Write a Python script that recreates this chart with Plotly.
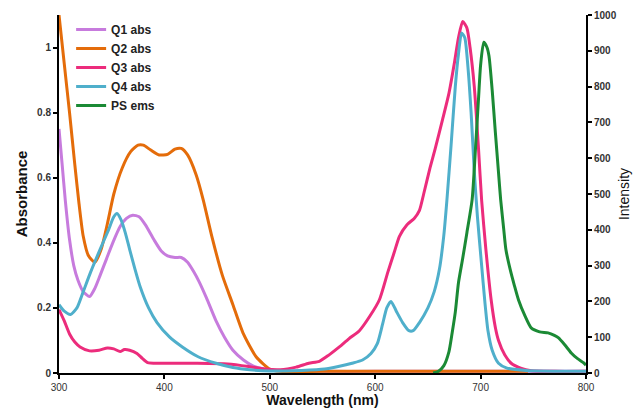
import plotly.graph_objects as go

# Absorbance spectra (left axis)
q1_wl = [300, 303, 306, 310, 314, 318, 323, 329, 334, 339, 345, 351, 358, 364, 370, 376, 382, 390,
         397, 403, 410, 416, 422, 428, 433, 440, 449, 457, 465, 475, 484, 495, 510, 550, 600, 650, 700, 750, 800]
q1_abs = [0.75, 0.64, 0.53, 0.41, 0.33, 0.285, 0.25, 0.235, 0.26, 0.30, 0.35, 0.40, 0.45, 0.475, 0.485, 0.48,
          0.455, 0.41, 0.375, 0.36, 0.355, 0.355, 0.34, 0.31, 0.28, 0.23, 0.16, 0.11, 0.07, 0.04, 0.022, 0.012,
          0.006, 0.005, 0.005, 0.005, 0.005, 0.005, 0.005]

q2_wl = [300, 305, 310, 315, 319, 323, 328, 334, 340, 346, 352, 360, 368, 375, 380, 387, 395, 403, 410,
         416, 422, 430, 437, 445, 455, 465, 475, 487, 500, 510, 550, 600, 650, 700, 745]
q2_abs = [1.10, 0.95, 0.80, 0.64, 0.52, 0.42, 0.36, 0.34, 0.38, 0.46, 0.55, 0.63, 0.68, 0.70, 0.70, 0.685,
          0.67, 0.672, 0.688, 0.69, 0.67, 0.61, 0.53, 0.42, 0.30, 0.21, 0.12, 0.05, 0.012, 0.005, 0.005,
          0.005, 0.005, 0.005, 0.005]

q3_wl = [300, 305, 310, 315, 320, 329, 338, 346, 352, 358, 362, 367, 374, 379, 384, 395, 410, 430, 460,
         480, 495, 510, 525, 537, 547, 556, 566, 575, 585, 595, 604, 612, 618, 623, 630, 637, 642, 646,
         652, 657, 664, 670, 675, 679, 683, 687, 690, 694, 698, 701, 705, 710, 714, 717, 723, 729, 738,
         748, 770, 800]
q3_abs = [0.195, 0.16, 0.12, 0.095, 0.08, 0.068, 0.07, 0.077, 0.074, 0.066, 0.072, 0.07, 0.06, 0.045,
          0.032, 0.03, 0.03, 0.03, 0.028, 0.02, 0.012, 0.01, 0.018, 0.03, 0.036, 0.055, 0.08, 0.105, 0.13,
          0.175, 0.225, 0.31, 0.37, 0.42, 0.455, 0.475, 0.50, 0.55, 0.63, 0.69, 0.78, 0.86, 0.95, 1.03,
          1.08, 1.06, 1.00, 0.88, 0.69, 0.53, 0.38, 0.225, 0.14, 0.10, 0.055, 0.03, 0.015, 0.007, 0.005,
          0.005]

q4_wl = [300, 305, 311, 317, 323, 330, 339, 347, 352, 355, 359, 363, 367, 372, 377, 385, 393, 405, 417,
         432, 449, 465, 481, 500, 530, 552, 565, 578, 588, 596, 602, 607, 611, 615, 620, 626, 632, 636,
         642, 650, 656, 661, 665, 668, 672, 676, 679, 682, 685, 688, 691, 694, 697, 701, 704, 707, 711,
         717, 725, 743, 800]
q4_abs = [0.21, 0.19, 0.18, 0.20, 0.25, 0.31, 0.38, 0.44, 0.48, 0.49, 0.47, 0.43, 0.38, 0.32, 0.265,
          0.20, 0.155, 0.11, 0.08, 0.05, 0.03, 0.017, 0.01, 0.006, 0.008, 0.012, 0.02, 0.03, 0.04, 0.06,
          0.09, 0.15, 0.20, 0.22, 0.19, 0.155, 0.13, 0.13, 0.155, 0.20, 0.25, 0.32, 0.42, 0.53, 0.70, 0.88,
          0.98, 1.045, 1.03, 0.94, 0.80, 0.62, 0.48, 0.33, 0.22, 0.13, 0.07, 0.03, 0.015, 0.008, 0.005]

# Emission spectrum (right axis)
ps_wl = [655, 660, 665, 670, 673, 676, 679, 683, 687, 692, 695, 698, 700, 703, 706, 708, 711, 714, 717,
         719, 722, 724, 728, 732, 736, 742, 748, 756, 764, 770, 774, 780, 786, 792, 798, 800]
ps_int = [0, 5, 20, 60, 112, 170, 252, 320, 392, 485, 620, 765, 860, 924, 910, 885, 790, 672, 560, 485,
          400, 345, 290, 245, 204, 160, 126, 115, 112, 105, 98, 78, 56, 40, 28, 22]

series = [
    ("Q1 abs", q1_wl, q1_abs, "#C77BDD", "y"),
    ("Q2 abs", q2_wl, q2_abs, "#E46C0A", "y"),
    ("Q3 abs", q3_wl, q3_abs, "#EC2C7C", "y"),
    ("Q4 abs", q4_wl, q4_abs, "#4FAFCB", "y"),
    ("PS ems", ps_wl, ps_int, "#1B8A35", "y2"),
]

FONT = "Liberation Sans, Arial, sans-serif"

fig = go.Figure()
for name, x, y, color, axis in series:
    fig.add_trace(go.Scatter(
        x=x, y=y, name=name, yaxis=axis, mode="lines",
        line=dict(color=color, width=3, shape="spline", smoothing=0.6),
    ))

axis_common = dict(
    showline=True, linecolor="black", linewidth=2, showgrid=False, zeroline=False,
    ticks="outside", ticklen=4, tickwidth=1.5, tickcolor="black", automargin=False,
)

fig.update_layout(
    width=638, height=408,
    margin=dict(l=59, r=52, t=15, b=35),
    paper_bgcolor="white", plot_bgcolor="white",
    font=dict(family=FONT, color="#222"),
    showlegend=True,
    legend=dict(
        x=0.023, y=1.0, xanchor="left", yanchor="top",
        bgcolor="rgba(0,0,0,0)", itemwidth=30,
        font=dict(family=FONT, size=12, color="#222", weight="bold"),
    ),
    xaxis=dict(
        range=[300, 800], dtick=100, tick0=300, **axis_common,
        tickfont=dict(size=10, color="#333"),
        title=dict(text="Wavelength (nm)", standoff=6,
                   font=dict(size=14, color="#111", weight="bold")),
    ),
    yaxis=dict(
        range=[0, 1.1], dtick=0.2, tick0=0, **axis_common,
        tickfont=dict(size=10, color="#333", weight="bold"),
        title=dict(text="Absorbance", standoff=6,
                   font=dict(size=15, color="#111", weight="bold")),
    ),
    yaxis2=dict(
        range=[0, 1000], dtick=100, tick0=0, overlaying="y", side="right", **axis_common,
        tickfont=dict(size=10, color="#333", weight="bold"),
        title=dict(text="Intensity", standoff=4,
                   font=dict(size=14, color="#111")),
    ),
)

fig.write_html("out.html")
